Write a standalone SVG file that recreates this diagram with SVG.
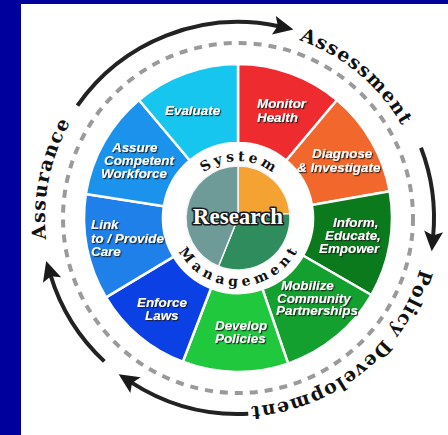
<svg xmlns="http://www.w3.org/2000/svg" width="448" height="435" viewBox="0 0 448 435">
  <style>
    .wedge { stroke: #ffffff; stroke-width: 2.5; stroke-linejoin: round; }
    .pie { stroke: #f4f4f4; stroke-width: 1.5; }
    .lbl { font-family: "Liberation Sans", Arial, sans-serif; font-weight: bold; font-style: italic; font-size: 13.4px; fill: #ffffff; filter: url(#shadow); }
    .ring { font-family: "DejaVu Serif", "Liberation Serif", serif; font-weight: bold; fill: #111111; }
    .outer { font-size: 19px; }
    .inner { font-size: 14px; }
    .cycle { fill: none; stroke: #222222; stroke-width: 4; marker-end: url(#head); }
  </style>
  <defs>
    <filter id="shadow" x="-20%" y="-30%" width="140%" height="160%">
      <feDropShadow dx="1.2" dy="1.2" stdDeviation="0.4" flood-color="#1a1a1a" flood-opacity="0.9"/>
    </filter>
    <marker id="head" markerUnits="userSpaceOnUse" orient="auto" refX="0" refY="0" markerWidth="40" markerHeight="40" overflow="visible">
      <path d="M15,0 L-5,-9.5 L-1,0 L-5,9.5 Z" fill="#1a1a1a"/>
    </marker>
    <!-- text baselines -->
    <path id="pAssess" d="M299.2,40.2 A188,188 0 0 1 423.1,185.4"/>
    <path id="pPolicy" d="M419.9,269.1 A189,189 0 0 1 205.2,404.1"/>
    <path id="pAssur" d="M46.2,239.2 A193,193 0 0 1 113.9,70.2"/>
    <path id="pSys" d="M181,218 A57,57 0 0 1 295,218"/>
    <path id="pMgmt" d="M170,218 A68,68 0 0 0 306,218"/>
  </defs>

  <!-- page -->
  <rect x="0" y="0" width="448" height="435" fill="#ffffff"/>
  <rect x="0" y="0" width="448" height="4" fill="#00009c"/>
  <rect x="0" y="0" width="21" height="435" fill="#00009c"/>

  <!-- dashed track -->
  <circle cx="238" cy="218" r="175" fill="none" stroke="#9a9a9a" stroke-width="4" stroke-dasharray="8 7"/>

  <!-- service wedges -->
  <g id="monitor-health">
    <path class="wedge" fill="#ee2b2e" d="M238,64 A154,154 0 0 1 336.99,100.04 L286.21,160.55 A75,75 0 0 0 238,143 Z"/>
    <text class="lbl" x="257" y="108">Monitor</text>
    <text class="lbl" x="257" y="122">Health</text>
  </g>
  <g id="diagnose">
    <path class="wedge" fill="#f2672c" d="M336.99,100.04 A154,154 0 0 1 389.66,191.27 L311.86,204.98 A75,75 0 0 0 286.21,160.55 Z"/>
    <text class="lbl" x="312" y="158">Diagnose</text>
    <text class="lbl" x="297" y="172">&amp; Investigate</text>
  </g>
  <g id="inform">
    <path class="wedge" fill="#0b7a1c" d="M389.66,191.27 A154,154 0 0 1 371.37,295 L302.95,255.5 A75,75 0 0 0 311.86,204.98 Z"/>
    <text class="lbl" x="333" y="227">Inform,</text>
    <text class="lbl" x="325" y="240">Educate,</text>
    <text class="lbl" x="319" y="253">Empower</text>
  </g>
  <g id="mobilize">
    <path class="wedge" fill="#14a02e" d="M371.37,295 A154,154 0 0 1 288.14,363.61 L262.42,288.91 A75,75 0 0 0 302.95,255.5 Z"/>
    <text class="lbl" x="281" y="290">Mobilize</text>
    <text class="lbl" x="277" y="303">Community</text>
    <text class="lbl" x="276" y="315">Partnerships</text>
  </g>
  <g id="develop-policies">
    <path class="wedge" fill="#20c83e" d="M288.14,363.61 A154,154 0 0 1 182.81,361.77 L211.12,288.02 A75,75 0 0 0 262.42,288.91 Z"/>
    <text class="lbl" x="215" y="330">Develop</text>
    <text class="lbl" x="215" y="343">Policies</text>
  </g>
  <g id="enforce-laws">
    <path class="wedge" fill="#0a40e4" d="M182.81,361.77 A154,154 0 0 1 105.99,297.31 L173.71,256.63 A75,75 0 0 0 211.12,288.02 Z"/>
    <text class="lbl" x="137" y="307">Enforce</text>
    <text class="lbl" x="145" y="320">Laws</text>
  </g>
  <g id="link-care">
    <path class="wedge" fill="#1f80ea" d="M105.99,297.31 A154,154 0 0 1 85.89,193.91 L163.92,206.27 A75,75 0 0 0 173.71,256.63 Z"/>
    <text class="lbl" x="91" y="229">Link</text>
    <text class="lbl" x="91" y="243">to / Provide</text>
    <text class="lbl" x="91" y="256">Care</text>
  </g>
  <g id="assure-workforce">
    <path class="wedge" fill="#1b93ec" d="M85.89,193.91 A154,154 0 0 1 139.01,100.04 L189.79,160.55 A75,75 0 0 0 163.92,206.27 Z"/>
    <text class="lbl" x="112" y="152">Assure</text>
    <text class="lbl" x="104" y="165">Competent</text>
    <text class="lbl" x="101" y="178">Workforce</text>
  </g>
  <g id="evaluate">
    <path class="wedge" fill="#17c6ee" d="M139.01,100.04 A154,154 0 0 1 238,64 L238,143 A75,75 0 0 0 189.79,160.55 Z"/>
    <text class="lbl" x="165" y="115">Evaluate</text>
  </g>

  <!-- core: research with system management ring -->
  <g id="core">
    <path class="pie" fill="#f4a232" d="M238,218 L238,166 A52,52 0 0 1 289.8,213.47 Z"/>
    <path class="pie" fill="#2f8c5c" d="M238,218 L289.8,213.47 A52,52 0 0 1 218.52,266.21 Z"/>
    <path class="pie" fill="#6e9b97" d="M238,218 L218.52,266.21 A52,52 0 0 1 238,166 Z"/>
    <text x="238" y="224" text-anchor="middle" font-family="'Liberation Serif', 'Times New Roman', serif" font-weight="bold" font-size="23" fill="#ffffff" stroke="#1a1a1a" stroke-width="3.2" stroke-linejoin="round" paint-order="stroke">Research</text>
    <text class="ring inner" letter-spacing="3.5"><textPath href="#pSys" startOffset="51%" text-anchor="middle">System</textPath></text>
    <text class="ring inner" letter-spacing="4.5"><textPath href="#pMgmt" startOffset="51%" text-anchor="middle">Management</textPath></text>
  </g>

  <!-- cycle arrows -->
  <g id="connectors">
    <path class="cycle" d="M77.44,105.58 A196,196 0 0 1 278.75,26.29"/>
    <path class="cycle" d="M420.99,147.75 A196,196 0 0 1 433.13,236.44"/>
    <path class="cycle" d="M248.25,413.73 A196,196 0 0 1 131.26,382.39"/>
    <path class="cycle" d="M104.33,361.35 A196,196 0 0 1 50.57,275.31"/>
  </g>

  <!-- core functions -->
  <g id="assessment">
    <text class="ring outer" letter-spacing="1.3"><textPath href="#pAssess">Assessment</textPath></text>
  </g>
  <g id="policy-development">
    <text class="ring outer" letter-spacing="1.3"><textPath href="#pPolicy">Policy Development</textPath></text>
  </g>
  <g id="assurance">
    <text class="ring outer" letter-spacing="1.4"><textPath href="#pAssur">Assurance</textPath></text>
  </g>
</svg>
